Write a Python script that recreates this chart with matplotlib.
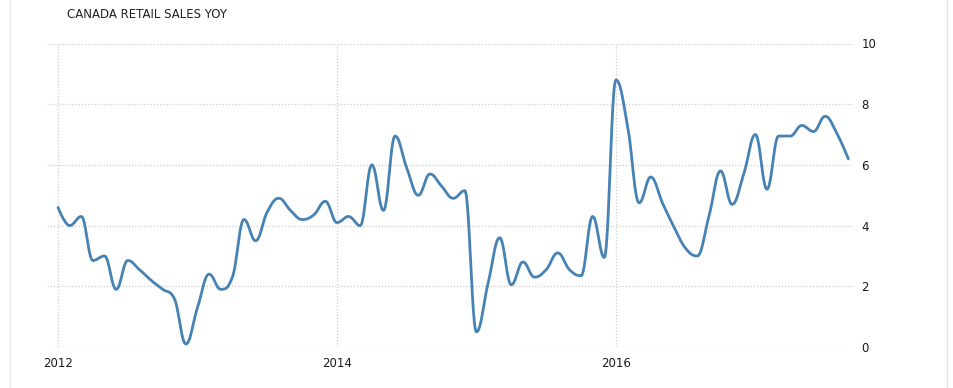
import numpy as np
import matplotlib
matplotlib.use('Agg')
import matplotlib.pyplot as plt
from matplotlib.lines import Line2D

plt.rcParams['font.family'] = 'DejaVu Sans'

# Canada retail sales, year over year (%), monthly from Jan 2012
sales_2012 = [4.6, 4.0, 4.3, 2.85, 3.0, 1.9, 2.85, 2.55, 2.2, 1.9, 1.6, 0.1]
sales_2013 = [1.3, 2.4, 1.9, 2.3, 4.2, 3.5, 4.45, 4.9, 4.5, 4.2, 4.35, 4.8]
sales_2014 = [4.1, 4.3, 4.0, 6.0, 4.5, 6.95, 5.9, 5.0, 5.7, 5.3, 4.9, 5.15]
sales_2015 = [0.5, 2.1, 3.6, 2.05, 2.8, 2.3, 2.55, 3.1, 2.55, 2.35, 4.3, 2.95]
sales_2016 = [8.8, 7.3, 4.75, 5.6, 4.75, 3.95, 3.25, 3.0, 4.3, 5.8, 4.7, 5.7]
sales_2017 = [7.0, 5.2, 6.95, 6.95, 7.3, 7.1, 7.6, 7.05, 6.2]

year_ticks = [0, 24, 48]
year_labels = ['2012', '2014', '2016']
y_ticks = [0, 2, 4, 6, 8, 10]

values = np.array(sales_2012 + sales_2013 + sales_2014 + sales_2015 + sales_2016 + sales_2017)
months = np.arange(len(values), dtype=float)


def smooth(x, y, steps=24):
    # bezier spline through every point, control points kept inside
    # the neighbours' range so peaks sit on the data (highcharts style)
    n = len(x)
    lc = [(x[i], y[i]) for i in range(n)]
    rc = [(x[i], y[i]) for i in range(n)]
    for i in range(1, n - 1):
        lx = (1.5 * x[i] + x[i - 1]) / 2.5
        ly = (1.5 * y[i] + y[i - 1]) / 2.5
        rx = (1.5 * x[i] + x[i + 1]) / 2.5
        ry = (1.5 * y[i] + y[i + 1]) / 2.5
        corr = (ry - ly) * (rx - x[i]) / (rx - lx) + y[i] - ry
        ly += corr
        ry += corr
        if ly > y[i - 1] and ly > y[i]:
            ly = max(y[i - 1], y[i]); ry = 2 * y[i] - ly
        elif ly < y[i - 1] and ly < y[i]:
            ly = min(y[i - 1], y[i]); ry = 2 * y[i] - ly
        if ry > y[i + 1] and ry > y[i]:
            ry = max(y[i + 1], y[i]); ly = 2 * y[i] - ry
        elif ry < y[i + 1] and ry < y[i]:
            ry = min(y[i + 1], y[i]); ly = 2 * y[i] - ry
        lc[i] = (lx, ly)
        rc[i] = (rx, ry)
    xs, ys = [], []
    s = np.linspace(0, 1, steps, endpoint=False)
    for i in range(n - 1):
        p0 = (x[i], y[i]); p1 = rc[i]; p2 = lc[i + 1]; p3 = (x[i + 1], y[i + 1])
        b0 = (1 - s) ** 3; b1 = 3 * s * (1 - s) ** 2; b2 = 3 * s ** 2 * (1 - s); b3 = s ** 3
        xs.append(b0 * p0[0] + b1 * p1[0] + b2 * p2[0] + b3 * p3[0])
        ys.append(b0 * p0[1] + b1 * p1[1] + b2 * p2[1] + b3 * p3[1])
    xs.append([x[-1]])
    ys.append([y[-1]])
    return np.concatenate(xs), np.concatenate(ys)


fig = plt.figure(figsize=(9.54, 3.88), dpi=100)
W, H = 954, 388
ax = fig.add_axes([47 / W, 1 - 347 / H, (853 - 47) / W, (347 - 43.5) / H])

sx, sy = smooth(months, values)
ax.plot(sx, sy, color='#4682b4', lw=2.0, solid_capstyle='round', zorder=3)

ax.set_xlim(-0.95, 68.4)
ax.set_ylim(0, 10)
ax.set_xticks(year_ticks)
ax.set_xticklabels(year_labels)
ax.set_yticks(y_ticks)
ax.yaxis.tick_right()
ax.tick_params(axis='both', length=0, labelsize=8.5, colors='#1a1a1a')
ax.tick_params(axis='x', pad=7)
ax.tick_params(axis='y', pad=6)

grid_style = dict(color='#cfcfcf', linestyle=(0, (1, 1.5)), linewidth=0.9)
ax.grid(True, axis='y', **grid_style)
ax.grid(True, axis='x', **grid_style)
ax.set_axisbelow(True)
for sp in ax.spines.values():
    sp.set_visible(False)

fig.text(67 / W, 1 - 14 / H, 'CANADA RETAIL SALES YOY', fontsize=8.5,
         color='#222222', va='center', ha='left')

# faint panel borders
fig.add_artist(Line2D([10.5 / W, 10.5 / W], [0, 1], color='#ececec', lw=1))
fig.add_artist(Line2D([947.5 / W, 947.5 / W], [0, 1], color='#e4e4e4', lw=1))

fig.savefig('out.png', dpi=100, facecolor='white')
